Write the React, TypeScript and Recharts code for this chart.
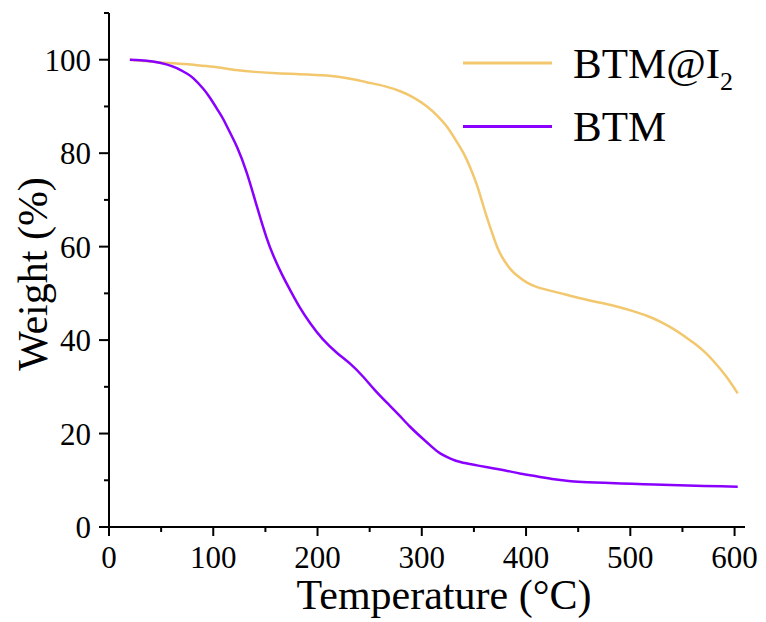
import { LineChart, Line, XAxis, YAxis, Legend } from "recharts";

// BTM@I2 (yellow)
const tempI2 = [
  20, 35, 49, 65, 81, 100, 122, 140, 161, 183, 209, 230, 247, 265, 280, 293,
  305, 315, 324, 332, 340, 347, 353, 358, 363, 368, 372, 376, 380, 385, 392,
  401, 410, 421, 437, 453, 469, 485, 501, 517, 530, 542, 552, 562, 572, 581,
  592, 603,
];
const weightI2 = [
  100, 99.7, 99.4, 99.2, 98.9, 98.5, 97.8, 97.4, 97.1, 96.9, 96.6, 96.0, 95.2,
  94.3, 93.2, 91.8, 90.0, 88.0, 85.7, 83.0, 80.0, 76.6, 73.1, 69.5, 65.9, 62.6,
  60.1, 58.2, 56.7, 55.2, 53.7, 52.3, 51.4, 50.7, 49.8, 48.9, 48.1, 47.3, 46.3,
  45.1, 43.8, 42.3, 40.8, 39.2, 37.3, 35.2, 32.2, 28.6,
];

// BTM (purple)
const tempBTM = [
  20, 30, 42, 55, 65, 75, 81, 90, 97, 105, 110, 117, 123, 132, 142, 151, 158,
  166, 174, 183, 193, 205, 219, 232, 244, 255, 267, 278, 289, 300, 310, 318,
  328, 337, 350, 363, 380, 395, 411, 427, 443, 459, 475, 491, 507, 523, 539,
  555, 571, 587, 603,
];
const weightBTM = [
  100, 99.9, 99.6, 99.0, 98.2, 97.0, 96.0, 93.9, 91.8, 89.0, 87.1, 84.0, 81.2,
  75.9, 68.5, 62.0, 57.9, 54.0, 50.6, 47.0, 43.6, 40.2, 37.2, 34.8, 32.1, 29.3,
  26.5, 24.0, 21.4, 19.1, 17.1, 15.7, 14.6, 13.9, 13.3, 12.8, 12.1, 11.4, 10.8,
  10.2, 9.8, 9.6, 9.45, 9.3, 9.2, 9.1, 9.0, 8.9, 8.8, 8.7, 8.6,
];

const xTicks = [0, 50, 100, 150, 200, 250, 300, 350, 400, 450, 500, 550, 600];
const yTicks = [0, 10, 20, 30, 40, 50, 60, 70, 80, 90, 100, 110];

const seriesNames = ["BTM@I2", "BTM"];
const seriesColors = ["#F2C76D", "#8A00FF"];

const FONT = '"Liberation Serif", "Times New Roman", serif';

const dataI2 = tempI2.map((t, i) => ({ t, w: weightI2[i] }));
const dataBTM = tempBTM.map((t, i) => ({ t, w: weightBTM[i] }));

const YTick = (props: any) => {
  const { x, y, payload } = props;
  const major = payload.value % 20 === 0 && payload.value <= 100;
  return (
    <g>
      <line x1={x - (major ? 10 : 5)} x2={x} y1={y} y2={y} stroke="#000" strokeWidth={2} />
      {major && (
        <text x={x - 18} y={y} dy={11} textAnchor="end" fontSize={31} fontFamily={FONT} fill="#000">
          {payload.value}
        </text>
      )}
    </g>
  );
};

const XTick = (props: any) => {
  const { x, y, payload } = props;
  const major = payload.value % 100 === 0;
  return (
    <g>
      <line x1={x} x2={x} y1={y} y2={y + (major ? 9 : 5)} stroke="#000" strokeWidth={2} />
      {major && (
        <text x={x} y={y + 41} textAnchor="middle" fontSize={31} fontFamily={FONT} fill="#000">
          {payload.value}
        </text>
      )}
    </g>
  );
};

const renderLegend = (props: any) => {
  const payload = [...(props.payload || [])].sort(
    (a: any, b: any) => seriesNames.indexOf(a.value) - seriesNames.indexOf(b.value)
  );
  return (
    <svg width={310} height={150}>
      {payload.map((entry: any, i: number) => {
        const cy = 38 + i * 63.5;
        const name = String(entry.value);
        const m = name.match(/^(.*?)(\d)$/);
        return (
          <g key={name}>
            <line x1={8} x2={97} y1={cy} y2={cy} stroke={entry.color} strokeWidth={3} />
            <text x={118} y={cy + 14.5} fontSize={43} fontFamily={FONT} fill="#000">
              {m ? m[1] : name}
              {m && (
                <tspan fontSize={26} dy={12}>
                  {m[2]}
                </tspan>
              )}
            </text>
          </g>
        );
      })}
    </svg>
  );
};

export default function App() {
  return (
    <div style={{ position: "absolute", left: 0, top: 0, background: "#fff" }}>
      <LineChart
        width={766}
        height={622}
        margin={{ top: 13, right: 21, left: 0, bottom: 0 }}
      >
        <XAxis
          dataKey="t"
          type="number"
          domain={[0, 610]}
          ticks={xTicks}
          interval={0}
          height={95}
          tickSize={0}
          tickMargin={0}
          tick={<XTick />}
          axisLine={{ stroke: "#000", strokeWidth: 2 }}
          allowDataOverflow
          label={{
            content: (p: any) => {
              const vb = p.viewBox;
              return (
                <text x={vb.x + vb.width / 2 + 17} y={vb.y + 82} textAnchor="middle" fontSize={42} fontFamily={FONT} fill="#000">
                  Temperature (°C)
                </text>
              );
            },
          }}
        />
        <XAxis
          xAxisId="top"
          orientation="top"
          type="number"
          domain={[0, 610]}
          height={0}
          tick={false}
          tickLine={false}
          axisLine={{ stroke: "#000", strokeWidth: 2 }}
        />
        <YAxis
          dataKey="w"
          type="number"
          domain={[0, 110]}
          ticks={yTicks}
          interval={0}
          width={109}
          tickSize={0}
          tickMargin={0}
          tick={<YTick />}
          axisLine={{ stroke: "#000", strokeWidth: 2 }}
          allowDataOverflow
          label={{
            content: (p: any) => {
              const vb = p.viewBox;
              const cy = vb.y + vb.height / 2 + 4;
              return (
                <text x={47} y={cy} transform={`rotate(-90, 47, ${cy})`} textAnchor="middle" fontSize={42} fontFamily={FONT} fill="#000">
                  Weight (%)
                </text>
              );
            },
          }}
        />
        <YAxis
          yAxisId="right"
          orientation="right"
          type="number"
          domain={[0, 110]}
          width={0}
          tick={false}
          tickLine={false}
          axisLine={{ stroke: "#000", strokeWidth: 2 }}
        />
        <Legend
          layout="vertical"
          align="center"
          verticalAlign="middle"
          content={renderLegend}
          wrapperStyle={{ left: 455, top: 25, width: 310, height: 150 }}
        />
        <Line
          data={dataI2}
          dataKey="w"
          name={seriesNames[0]}
          type="natural"
          stroke={seriesColors[0]}
          strokeWidth={2.5}
          dot={false}
          activeDot={false}
          isAnimationActive={false}
        />
        <Line
          data={dataBTM}
          dataKey="w"
          name={seriesNames[1]}
          type="natural"
          stroke={seriesColors[1]}
          strokeWidth={2.5}
          dot={false}
          activeDot={false}
          isAnimationActive={false}
        />
      </LineChart>
    </div>
  );
}
